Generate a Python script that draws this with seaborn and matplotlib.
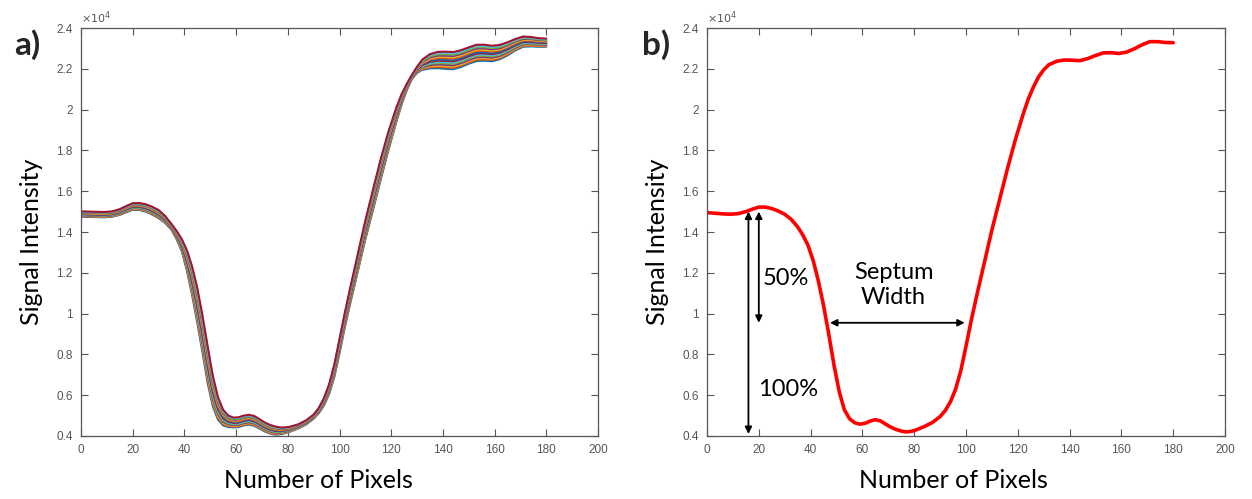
import numpy as np
import pandas as pd
import matplotlib
matplotlib.use("Agg")
import matplotlib.pyplot as plt
from matplotlib.ticker import FuncFormatter
import seaborn as sns

# ---------------- data (signal in units of 1e4) ----------------
pixels = [0, 3, 6, 9, 12, 15, 17.5, 20, 22.5, 25, 27.5, 30, 32.5, 35,
          37, 39, 41, 43, 45, 47, 49, 51, 53, 55, 57, 59, 61, 63, 65, 67, 69, 71, 73, 75, 77, 79, 81,
          84, 87, 90, 92, 94, 96, 98, 100, 102, 104, 107, 110, 113, 116, 119, 122, 124, 126, 128, 130,
          132, 135, 138, 141, 144, 147, 150, 153, 156, 159, 162, 165, 168, 171, 174, 177, 180]

# panel b: single profile
signal_b = [1.495, 1.492, 1.489, 1.487, 1.490, 1.500, 1.512, 1.522, 1.522, 1.515, 1.503, 1.487, 1.462, 1.425,
            1.385, 1.335, 1.260, 1.160, 1.040, 0.900, 0.750, 0.620, 0.530, 0.485, 0.465, 0.458, 0.462,
            0.473, 0.480, 0.474, 0.458, 0.443, 0.432, 0.424, 0.420, 0.423, 0.431,
            0.447, 0.466, 0.495, 0.525, 0.568, 0.630, 0.720, 0.840, 0.965, 1.080,
            1.245, 1.410, 1.560, 1.710, 1.850, 1.975, 2.050, 2.110, 2.160, 2.195,
            2.220, 2.237, 2.243, 2.242, 2.240, 2.250, 2.265, 2.278, 2.279, 2.275,
            2.282, 2.298, 2.318, 2.333, 2.333, 2.329, 2.328]

# panel a: centre of the bundle of profiles and its half-width
center_a = [1.488, 1.487, 1.486, 1.485, 1.488, 1.498, 1.512, 1.525, 1.525, 1.518, 1.505, 1.488, 1.462, 1.425,
            1.385, 1.335, 1.260, 1.160, 1.040, 0.900, 0.750, 0.620, 0.535, 0.490, 0.472, 0.466, 0.468,
            0.476, 0.480, 0.474, 0.460, 0.445, 0.434, 0.427, 0.425, 0.428, 0.434,
            0.447, 0.466, 0.495, 0.525, 0.568, 0.630, 0.720, 0.840, 0.965, 1.080,
            1.245, 1.410, 1.560, 1.710, 1.850, 1.975, 2.050, 2.110, 2.160, 2.195,
            2.220, 2.237, 2.243, 2.242, 2.240, 2.250, 2.265, 2.278, 2.279, 2.275,
            2.282, 2.298, 2.318, 2.333, 2.333, 2.329, 2.328]
halfwidth_a = [0.013, 0.013, 0.013, 0.013, 0.013, 0.014, 0.015, 0.016, 0.017, 0.018, 0.019, 0.020, 0.017, 0.014,
               0.020, 0.030, 0.050, 0.070, 0.085, 0.090, 0.090, 0.075, 0.055, 0.038, 0.028, 0.024, 0.024,
               0.024, 0.024, 0.024, 0.023, 0.022, 0.021, 0.020, 0.017, 0.014, 0.012,
               0.010, 0.010, 0.010, 0.013, 0.018, 0.024, 0.030, 0.035, 0.035, 0.038,
               0.042, 0.046, 0.050, 0.050, 0.045, 0.035, 0.025, 0.015, 0.010, 0.015,
               0.025, 0.035, 0.040, 0.042, 0.042, 0.041, 0.040, 0.040, 0.039, 0.038,
               0.035, 0.032, 0.028, 0.025, 0.023, 0.021, 0.020]
# relative position of each profile inside the bundle (-1 = lower edge, 1 = upper edge)
line_pos = [-1.0, -0.85, -0.69, -0.54, -0.38, -0.23, -0.08, 0.08, 0.23, 0.38, 0.54, 0.69, 0.85, 1.0]

x_ticks = [0, 20, 40, 60, 80, 100, 120, 140, 160, 180, 200]
y_ticks = [0.4, 0.6, 0.8, 1.0, 1.2, 1.4, 1.6, 1.8, 2.0, 2.2, 2.4]

matlab_colors = ['#0072BD', '#D95319', '#EDB120', '#7E2F8E', '#77AC30', '#4DBEEE', '#A2142F']

# ---------------- build tables ----------------
c_a = np.array(center_a)
hw_a = np.array(halfwidth_a)
rows = []
for k, f in enumerate(line_pos):
    yk = c_a + f * hw_a
    for px, v in zip(pixels, yk):
        rows.append({"pixel": px, "signal": v, "line": f"L{k}"})
df_a = pd.DataFrame(rows)
df_b = pd.DataFrame({"pixel": pixels, "signal": signal_b})

# ---------------- figure ----------------
sns.set_style("white")
plt.rcParams['font.family'] = ['Liberation Sans', 'DejaVu Sans']

fig = plt.figure(figsize=(12.52, 4.99), dpi=100)
axA = fig.add_axes([81 / 1252, 63 / 499, 517 / 1252, 408 / 499])
axB = fig.add_axes([707 / 1252, 63 / 499, 518 / 1252, 408 / 499])

palette = [matlab_colors[i % len(matlab_colors)] for i in range(len(line_pos))]
sns.lineplot(data=df_a, x="pixel", y="signal", hue="line", palette=palette,
             legend=False, lw=1.5, estimator=None, sort=False, ax=axA)
sns.lineplot(data=df_b, x="pixel", y="signal", color="#FF0000", lw=2.6,
             estimator=None, sort=False, ax=axB)

label_font = dict(family=['Lato', 'DejaVu Sans'], fontsize=18, color='black')
grey = '#555555'

for ax, xl_x in ((axA, 0.46), (axB, 0.476)):
    ax.set_xlim(0, 200)
    ax.set_ylim(0.4, 2.4)
    ax.set_xticks(x_ticks)
    ax.set_yticks(y_ticks)
    ax.yaxis.set_major_formatter(FuncFormatter(lambda v, p: f"{v:g}"))
    ax.tick_params(direction='in', length=5, width=0.8, top=True, right=True,
                   bottom=True, left=True, labelsize=8.5, colors=grey, pad=6)
    for s in ax.spines.values():
        s.set_visible(True)
        s.set_color(grey)
        s.set_linewidth(0.9)
    ax.set_xlabel("Number of Pixels", **label_font)
    ax.set_ylabel("Signal Intensity", **label_font)
    ax.xaxis.set_label_coords(xl_x, -0.08)
    ax.yaxis.set_label_coords(-0.074, 0.475)
    ax.text(0.0, 1.004, r"$\times10^{4}$", transform=ax.transAxes, fontsize=8,
            color=grey, ha='left', va='bottom')

# panel letters
fig.text(27 / 1252, 1 - 45 / 499, "a)", fontsize=24, fontweight='bold',
         family=['Lato', 'DejaVu Sans'], ha='center', va='center')
fig.text(656 / 1252, 1 - 45 / 499, "b)", fontsize=24, fontweight='bold',
         family=['Lato', 'DejaVu Sans'], ha='center', va='center')

# annotations in panel b
arrow = dict(arrowstyle='<|-|>', color='black', lw=1.3, mutation_scale=10,
             shrinkA=0, shrinkB=0)
axB.annotate('', xy=(16, 0.41), xytext=(16, 1.50), arrowprops=arrow)
axB.annotate('', xy=(20, 0.955), xytext=(20, 1.50), arrowprops=arrow)
axB.annotate('', xy=(47.5, 0.955), xytext=(99.5, 0.955), arrowprops=arrow)
txt = dict(family=['Lato', 'DejaVu Sans'], fontsize=17, color='black')
axB.text(21.6, 1.17, "50%", ha='left', va='center', **txt)
axB.text(19.8, 0.63, "100%", ha='left', va='center', **txt)
axB.text(72, 1.14, "Septum\nWidth", ha='center', va='center', linespacing=1.25, **txt)

fig.savefig("out.png", dpi=100)
